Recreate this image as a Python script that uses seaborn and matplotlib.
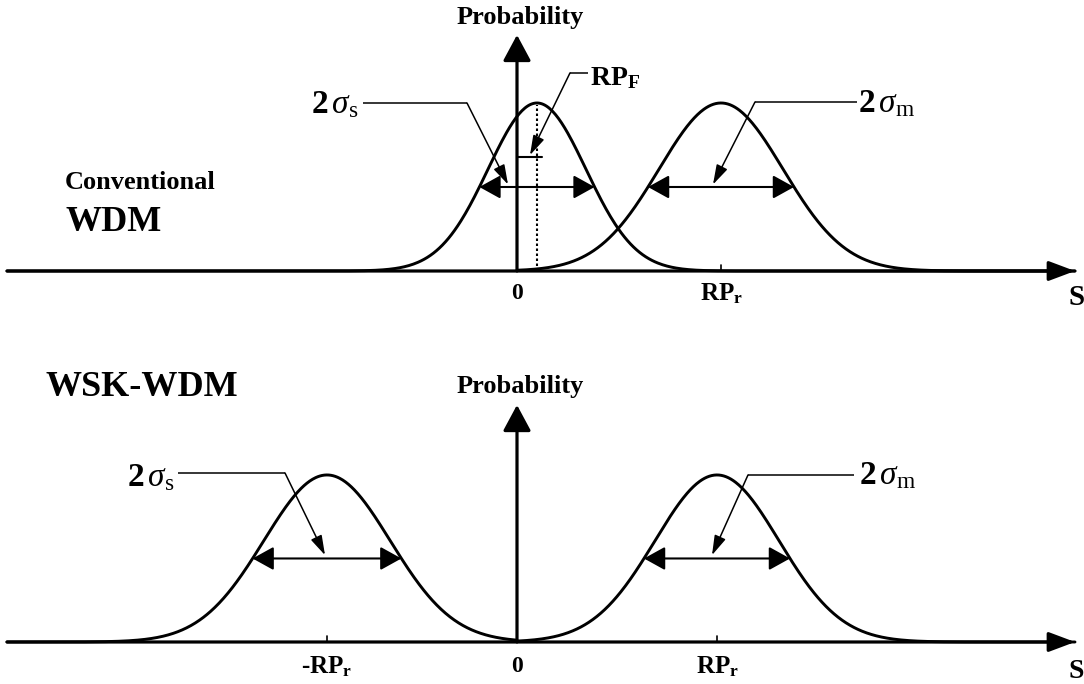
import numpy as np
import pandas as pd
import matplotlib
matplotlib.use("Agg")
import matplotlib.pyplot as plt
from matplotlib.patches import ArrowStyle
import seaborn as sns

sns.set_theme(style="white")
plt.rcParams["font.family"] = ["Liberation Serif", "DejaVu Serif"]
plt.rcParams["text.color"] = "black"
plt.rcParams["mathtext.fontset"] = "custom"
plt.rcParams["mathtext.rm"] = "Liberation Serif"
plt.rcParams["mathtext.it"] = "Liberation Serif:italic"
plt.rcParams["mathtext.bf"] = "Liberation Serif:bold"

# ---- distributions (S axis: vertical probability axis sits at S = 0) ----
# conventional WDM: signal (space) centred at RP_F, mark centred at RP_r
conv_names = ["space", "mark"]
conv_centers = [0.10, 1.02]
conv_half_widths = [0.288, 0.365]       # half width at half maximum
conv_support = [(-2.55, 2.79), (0.0, 2.79)]

# WSK-WDM: symmetric placement at -RP_r and RP_r
wsk_names = ["space", "mark"]
wsk_centers = [-0.95, 1.00]
wsk_half_widths = [0.372, 0.365]
wsk_support = [(-2.55, 0.0), (0.0, 2.79)]

# axis labels under the S axis
conv_ticks = [1.02]
conv_tick_labels = [r"$\mathbf{RP_r}$"]
wsk_ticks = [-0.95, 1.00]
wsk_tick_labels = [r"-$\mathbf{RP_r}$", r"$\mathbf{RP_r}$"]

LABEL_S = r"$\mathbf{2}\,\sigma_{\mathrm{s}}$"
LABEL_M = r"$\mathbf{2}\,\sigma_{\mathrm{m}}$"

X_LIM = (-2.585, 2.835)
AXIS_END = 2.79
AXIS_START = -2.55

fig = plt.figure(figsize=(10.84, 6.84), dpi=100)
fig.patch.set_facecolor("white")
ax_top = fig.add_axes([0, 0.5, 1, 0.5])
ax_bot = fig.add_axes([0, 0.0, 1, 0.5])

LW_AXIS = 2.3
LW_CURVE = 2.1
LW_SPAN = 1.5
LW_LEAD = 1.1

axis_v = ArrowStyle("-|>", head_length=0.8, head_width=0.43)
axis_h = ArrowStyle("-|>", head_length=0.8, head_width=0.3)
span_style = ArrowStyle("<|-|>", head_length=0.65, head_width=0.36)
lead_style = ArrowStyle("-|>", head_length=0.6, head_width=0.18)


def arrow(ax, start, end, style, lw, ms=20):
    ax.annotate("", xy=end, xytext=start,
                arrowprops=dict(arrowstyle=style, lw=lw, color="black",
                                mutation_scale=ms, shrinkA=0, shrinkB=0))


def gaussian_frame(names, centers, half_widths, support):
    rows = []
    for name, c, hw, (lo, hi) in zip(names, centers, half_widths, support):
        sigma = hw / np.sqrt(2 * np.log(2))
        s = np.linspace(lo, hi, 700)
        rows.append(pd.DataFrame({"S": s, "p": np.exp(-(s - c) ** 2 / (2 * sigma ** 2)),
                                  "curve": name}))
    return pd.concat(rows, ignore_index=True)


def draw_panel(ax, names, centers, half_widths, support, prob_tip, prob_label_y, ylim):
    df = gaussian_frame(names, centers, half_widths, support)
    # S axis and probability axis
    arrow(ax, (AXIS_START, 0), (AXIS_END, 0), axis_h, LW_AXIS)
    arrow(ax, (0, 0), (0, prob_tip), axis_v, LW_AXIS)
    ax.text(0.015, prob_label_y, "Probability", ha="center", va="center",
            fontsize=19, fontweight="bold")
    for name in names:
        sub = df[df["curve"] == name]
        sns.lineplot(data=sub, x="S", y="p", ax=ax, color="black", lw=LW_CURVE,
                     sort=False, legend=False, estimator=None)
    # half-maximum width markers
    for c, hw in zip(centers, half_widths):
        arrow(ax, (c - hw, 0.5), (c + hw, 0.5), span_style, LW_SPAN)
    ax.set_xlim(*X_LIM)
    ax.set_ylim(*ylim)
    ax.set_axis_off()


def leader(ax, label, text_xy, ha, corner, far, tip, fontsize=24):
    ax.text(*text_xy, label, ha=ha, va="center", fontsize=fontsize)
    ax.plot([far[0], corner[0]], [far[1], corner[1]], color="black", lw=LW_LEAD,
            solid_capstyle="butt")
    arrow(ax, corner, tip, lead_style, LW_LEAD)


# ---------------- conventional WDM ----------------
draw_panel(ax_top, conv_names, conv_centers, conv_half_widths, conv_support,
           prob_tip=1.405, prob_label_y=1.506, ylim=(-0.4226, 1.613))

# RP_F marker: dotted line at the signal peak and short step from the axis
ax_top.plot([conv_centers[0], conv_centers[0]], [0, 0.99], color="black",
            lw=1.5, ls=(0, (1.2, 1.2)))
ax_top.plot([0, 0.125], [0.679, 0.679], color="black", lw=1.5)

leader(ax_top, LABEL_S, (-0.795, 0.99), "right", (-0.25, 1.0), (-0.77, 1.0),
       (-0.045, 0.515))
leader(ax_top, LABEL_M, (1.705, 0.995), "left", (1.19, 1.006), (1.70, 1.006),
       (0.98, 0.515))
leader(ax_top, r"$\mathbf{RP_F}$", (0.365, 1.15), "left", (0.265, 1.179),
       (0.355, 1.179), (0.065, 0.69), fontsize=20)

for t, lab in zip(conv_ticks, conv_tick_labels):
    ax_top.plot([t, t], [0, 0.035], color="black", lw=1.2)
    ax_top.text(t, -0.062, lab, ha="center", va="top", fontsize=18,
                fontweight="bold")
ax_top.text(0, -0.07, "0", ha="center", va="top", fontsize=17, fontweight="bold")
ax_top.text(2.76, -0.08, "S", ha="left", va="top", fontsize=21, fontweight="bold")

ax_top.text(-2.26, 0.524, "Conventional", ha="left", va="center", fontsize=19,
            fontweight="bold")
ax_top.text(-2.26, 0.286, "WDM", ha="left", va="center", fontsize=26,
            fontweight="bold")

# ---------------- WSK-WDM ----------------
draw_panel(ax_bot, wsk_names, wsk_centers, wsk_half_widths, wsk_support,
           prob_tip=1.419, prob_label_y=1.527, ylim=(-0.2515, 1.796))

leader(ax_bot, LABEL_S, (-1.715, 0.985), "right", (-1.16, 1.012), (-1.695, 1.012),
       (-0.96, 0.52))
leader(ax_bot, LABEL_M, (1.71, 0.995), "left", (1.155, 1.0), (1.685, 1.0),
       (0.975, 0.52))

for t, lab in zip(wsk_ticks, wsk_tick_labels):
    ax_bot.plot([t, t], [0, 0.035], color="black", lw=1.2)
    ax_bot.text(t, -0.075, lab, ha="center", va="top", fontsize=18,
                fontweight="bold")
ax_bot.text(0, -0.085, "0", ha="center", va="top", fontsize=17, fontweight="bold")
ax_bot.text(2.76, -0.1, "S", ha="left", va="top", fontsize=20, fontweight="bold")

ax_bot.text(-2.36, 1.521, "WSK-WDM", ha="left", va="center", fontsize=26,
            fontweight="bold")

fig.savefig("out.png", dpi=100, facecolor="white")
